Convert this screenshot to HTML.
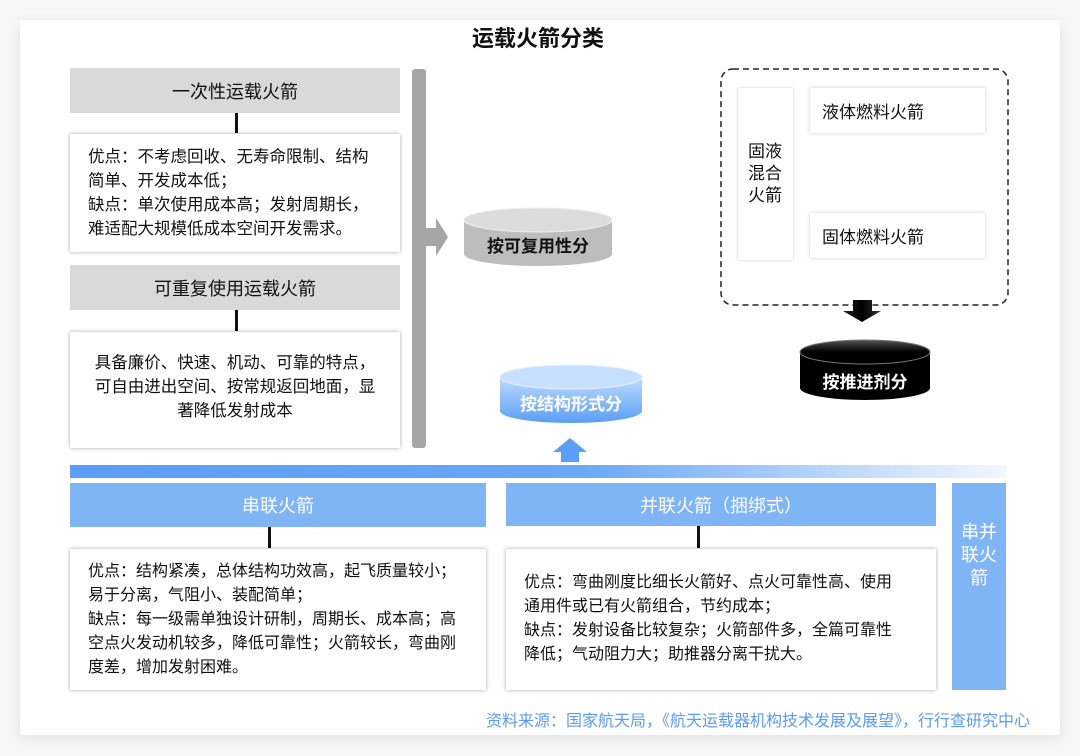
<!DOCTYPE html>
<html><head><meta charset="utf-8"><style>
*{margin:0;padding:0;box-sizing:border-box}
body{width:1080px;height:756px;background:#f6f6f6;font-family:"Liberation Sans","Noto Sans CJK SC",sans-serif;position:relative;overflow:hidden;color:#111}
.card{position:absolute;left:20px;top:20px;width:1040px;height:715px;background:#fff;box-shadow:0 4px 12px rgba(0,0,0,.08)}
.a{position:absolute}
.gh{background:#d9d9d9;font-size:18px;display:flex;align-items:center;justify-content:center}
.tb{background:#fff;box-shadow:0 0 4px rgba(0,0,0,.35);font-size:16px;line-height:24px;white-space:nowrap}
.vl{width:3px;background:#111}
.bh{background:#7fb4f5;color:#fff;font-size:18px;display:flex;align-items:center;justify-content:center}
.wb{background:#fff;box-shadow:0 0 4px rgba(0,0,0,.2);font-size:17px;display:flex;align-items:center;padding-left:12px}
</style></head><body>
<div class="card"></div>
<div class="a" style="left:0;width:1076px;top:21px;text-align:center;font-size:22px;font-weight:bold">运载火箭分类</div>

<div class="a gh" style="left:70px;top:68px;width:330px;height:45px">一次性运载火箭</div>
<div class="a vl" style="left:235px;top:113px;height:20px"></div>
<div class="a tb" style="left:70px;top:134px;width:330px;height:118px;padding:11px 0 0 18px;font-size:16.5px">优点：不考虑回收、无寿命限制、结构<br>简单、开发成本低；<br>缺点：单次使用成本高；发射周期长，<br>难适配大规模低成本空间开发需求。</div>
<div class="a gh" style="left:70px;top:265px;width:330px;height:45px">可重复使用运载火箭</div>
<div class="a vl" style="left:235px;top:310px;height:21px"></div>
<div class="a tb" style="left:70px;top:332px;width:330px;height:116px;padding:19px 0 0 0;text-align:center;font-size:16.5px">具备廉价、快速、机动、可靠的特点，<br>可自由进出空间、按常规返回地面，显<br>著降低发射成本</div>
<div class="a" style="left:412px;top:69px;width:14px;height:379px;background:#a6a6a6;border-radius:3px"></div>

<svg class="a" style="left:0;top:0" width="1080" height="756">
<defs>
<linearGradient id="gb" x1="0" y1="0" x2="0" y2="1"><stop offset="0" stop-color="#bfdcff"/><stop offset="1" stop-color="#5a9ef5"/></linearGradient>
<linearGradient id="gk" x1="0" y1="0" x2="0" y2="1"><stop offset="0" stop-color="#555"/><stop offset=".5" stop-color="#000"/><stop offset="1" stop-color="#000"/></linearGradient>
<linearGradient id="hb" x1="0" y1="0" x2="1" y2="0"><stop offset="0" stop-color="#5a9ef5"/><stop offset=".55" stop-color="#6aa8f6"/><stop offset="1" stop-color="#f2f7ff"/></linearGradient>
<linearGradient id="ak" x1="0" y1="0" x2="1" y2="0"><stop offset="0" stop-color="#222"/><stop offset=".5" stop-color="#000"/><stop offset="1" stop-color="#333"/></linearGradient>
</defs>
<polygon points="426,228 436,228 436,218 448,237 436,256 436,246 426,246" fill="#a6a6a6"/>
<path d="M464,220 v34 a74,12 0 0 0 148,0 v-34 z" fill="#bdbdbd"/>
<ellipse cx="538" cy="220" rx="74" ry="12" fill="#dcdcdc" stroke="#eee"/>
<text x="538" y="252" text-anchor="middle" font-size="17" font-weight="bold" fill="#111">按可复用性分</text>
<path d="M500,377 v34 a71,12 0 0 0 142,0 v-34 z" fill="url(#gb)"/>
<ellipse cx="571" cy="377" rx="71" ry="12" fill="#c8e0ff" stroke="#e6f0ff"/>
<text x="571" y="410" text-anchor="middle" font-size="17" font-weight="bold" fill="#fff">按结构形式分</text>
<polygon points="570,438 587,452 579,452 579,462 561,462 561,452 553,452" fill="#5a9ef5"/>
<rect x="70" y="465" width="936" height="13" fill="url(#hb)"/>
<rect x="721" y="69" width="287" height="236" rx="12" fill="none" stroke="#222" stroke-width="1.5" stroke-dasharray="6,4"/>
<polygon points="853,300 872,300 872,311 881,311 862,322 843,311 853,311" fill="url(#ak)"/>
<path d="M800,352 v36 a65,12 0 0 0 130,0 v-36 z" fill="#000"/>
<ellipse cx="865" cy="352" rx="65" ry="12" fill="url(#gk)" stroke="#777"/>
<text x="865" y="388" text-anchor="middle" font-size="17" font-weight="bold" fill="#fff">按推进剂分</text>
</svg>

<div class="a" style="left:738px;top:88px;width:55px;height:172px;background:#fff;box-shadow:0 0 3px rgba(0,0,0,.2);font-size:17px;line-height:22px;padding:53px 0 0 10px">固液<br>混合<br>火箭</div>
<div class="a wb" style="left:810px;top:88px;width:175px;height:45px">液体燃料火箭</div>
<div class="a wb" style="left:810px;top:213px;width:175px;height:45px">固体燃料火箭</div>

<div class="a bh" style="left:70px;top:483px;width:416px;height:44px">串联火箭</div>
<div class="a vl" style="left:268px;top:527px;height:21px"></div>
<div class="a tb" style="left:70px;top:549px;width:416px;height:141px;padding:11px 0 0 18px">优点：结构紧凑，总体结构功效高，起飞质量较小；<br>易于分离，气阻小、装配简单；<br>缺点：每一级需单独设计研制，周期长、成本高；高<br>空点火发动机较多，降低可靠性；火箭较长，弯曲刚<br>度差，增加发射困难。</div>
<div class="a bh" style="left:506px;top:483px;width:430px;height:43px">并联火箭（捆绑式）</div>
<div class="a vl" style="left:697px;top:526px;height:22px"></div>
<div class="a tb" style="left:506px;top:549px;width:430px;height:141px;padding:22px 0 0 18px">优点：弯曲刚度比细长火箭好、点火可靠性高、使用<br>通用件或已有火箭组合，节约成本；<br>缺点：发射设备比较复杂；火箭部件多，全篇可靠性<br>降低；气动阻力大；助推器分离干扰大。</div>
<div class="a" style="left:952px;top:483px;width:54px;height:207px;background:#7fb4f5;color:#fff;font-size:18px;line-height:23px;text-align:center;padding-top:38px">串并<br>联火<br>箭</div>

<div class="a" style="right:50px;top:707px;font-size:16px;color:#5b9cf0;white-space:nowrap">资料来源：国家航天局，《航天运载器机构技术发展及展望》，行行查研究中心</div>
</body></html>
